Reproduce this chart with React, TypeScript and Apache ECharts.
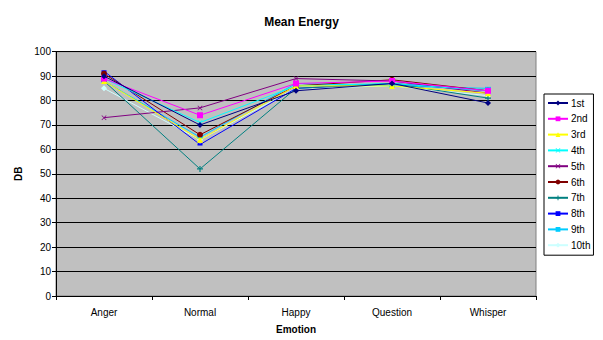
import React, { useEffect, useRef } from "react";
import * as echarts from "echarts";

const categories = ["Anger", "Normal", "Happy", "Question", "Whisper"];
const seriesNames = ["1st", "2nd", "3rd", "4th", "5th", "6th", "7th", "8th", "9th", "10th"];
const s1 = [90, 70, 84, 87, 79];
const s2 = [89, 74, 87, 88, 84];
const s3 = [88, 64, 86, 86, 83];
const s4 = [89, 71, 86, 87, 84];
const s5 = [73, 77, 89, 88, 83];
const s6 = [91, 66, 86, 88.5, 84];
const s7 = [88, 52, 85, 87, 81];
const s8 = [92, 62, 85, 87, 84];
const s9 = [88, 65, 87, 86, 85];
const s10 = [85, 64, 85, 86, 82];
const seriesValues = [s1, s2, s3, s4, s5, s6, s7, s8, s9, s10];
const yTicks = [0, 10, 20, 30, 40, 50, 60, 70, 80, 90, 100];

const colors = ["#000080", "#FF00FF", "#FFFF00", "#00FFFF", "#800080", "#800000", "#008080", "#0000FF", "#00CCFF", "#CCFFFF"];
const XPATH = "path://M1,0L5,4L9,0L10,1L6,5L10,9L9,10L5,6L1,10L0,9L4,5L0,1Z";
const PLUS = "path://M4,0H6V4H10V6H6V10H4V6H0V4H4Z";
const symbols: any[] = ["diamond", "rect", "triangle", XPATH, XPATH, "circle", PLUS, "rect", "rect", "diamond"];
const symbolSizes: any[] = [6, 6, 6, 5, 5, 6, 6, [5, 2], [6, 3], 6];

export default function App() {
  const ref = useRef<HTMLDivElement>(null);
  useEffect(() => {
    if (!ref.current) return;
    const chart = echarts.init(ref.current, null, { renderer: "svg" });
    const font = "'Liberation Sans', Arial, sans-serif";
    chart.setOption({
      animation: false,
      backgroundColor: "#FFFFFF",
      textStyle: { fontFamily: font },
      title: {
        text: "Mean Energy",
        left: "center",
        top: 11,
        textStyle: { fontSize: 12, fontWeight: "bold", color: "#000", fontFamily: font },
      },
      legend: {
        orient: "vertical",
        left: 544,
        top: 94,
        width: 48,
        padding: [4, 3, 5, 3],
        itemWidth: 20,
        itemHeight: 6,
        itemGap: 5.8,
        borderColor: "#000",
        borderWidth: 1,
        backgroundColor: "#FFFFFF",
        textStyle: { fontSize: 10, color: "#000", fontFamily: font, padding: [0, 0, 0, -2] },
        data: seriesNames,
      },
      grid: {
        left: 56,
        right: 67,
        top: 51.7,
        bottom: 44,
        show: true,
        backgroundColor: "#C0C0C0",
        borderColor: "#808080",
        borderWidth: 1,
      },
      xAxis: {
        type: "category",
        data: categories,
        boundaryGap: true,
        name: "Emotion",
        nameLocation: "middle",
        nameGap: 28,
        nameTextStyle: { fontSize: 10, fontWeight: "bold", color: "#000", fontFamily: font },
        axisLine: { lineStyle: { color: "#000", width: 1 } },
        axisTick: { show: true, inside: false, length: 4, lineStyle: { color: "#000" } },
        axisLabel: { fontSize: 10, color: "#000", margin: 11, fontFamily: font },
        splitLine: { show: false },
      },
      yAxis: {
        type: "value",
        min: 0,
        max: 100,
        interval: 10,
        name: "DB",
        nameLocation: "middle",
        nameGap: 24,
        nameRotate: 90,
        nameTextStyle: { fontSize: 10, fontWeight: "bold", color: "#000", fontFamily: font },
        axisLine: { show: true, lineStyle: { color: "#000", width: 1 } },
        axisTick: { show: true, inside: false, length: 4, lineStyle: { color: "#000" } },
        axisLabel: {
          fontSize: 10,
          color: "#000",
          margin: 5,
          fontFamily: font,
          formatter: (v: number) => (yTicks.includes(v) ? String(v) : ""),
        },
        splitLine: { show: true, lineStyle: { color: "#000", width: 1 } },
      },
      series: seriesValues.map((vals, i) => ({
        name: seriesNames[i],
        type: "line",
        data: vals,
        symbol: symbols[i],
        symbolSize: symbolSizes[i],
        showAllSymbol: true,
        lineStyle: { color: colors[i], width: 1 },
        itemStyle: { color: colors[i], borderColor: colors[i], borderWidth: 0 },
        emphasis: { disabled: true },
        z: 10 - i,
      })),
    });
    return () => chart.dispose();
  }, []);
  return (
    <div
      ref={ref}
      style={{ position: "fixed", left: 0, top: 0, width: 603, height: 340 }}
    />
  );
}
